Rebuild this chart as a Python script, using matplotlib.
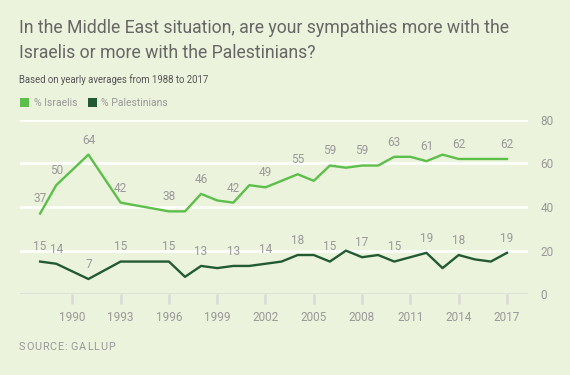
import matplotlib
matplotlib.use("Agg")
import matplotlib.pyplot as plt
from matplotlib.patches import Rectangle

plt.rcParams['font.family'] = ['Roboto', 'DejaVu Sans']

# yearly averages (years with no reading are left out)
years_isr = [1988, 1989, 1991, 1993, 1996, 1997, 1998, 1999, 2000, 2001, 2002, 2003,
             2004, 2005, 2006, 2007, 2008, 2009, 2010, 2011, 2012, 2013, 2014, 2015, 2016, 2017]
israelis = [37, 50, 64, 42, 38, 38, 46, 43, 42, 50, 49, 52,
            55, 52, 59, 58, 59, 59, 63, 63, 61, 64, 62, 62, 62, 62]
palestinians = [15, 14, 7, 15, 15, 8, 13, 12, 13, 13, 14, 15,
                18, 18, 15, 20, 17, 18, 15, 17, 19, 12, 18, 16, 15, 19]

# which points get a number printed above them
isr_labeled = [1988, 1989, 1991, 1993, 1996, 1998, 2000, 2002, 2004, 2006, 2008, 2010, 2012, 2014, 2017]
pal_labeled = [1988, 1989, 1991, 1993, 1996, 1998, 2000, 2002, 2004, 2006, 2008, 2010, 2012, 2014, 2017]

xticks = [1990, 1993, 1996, 1999, 2002, 2005, 2008, 2011, 2014, 2017]
yticks = [0, 20, 40, 60, 80]

bg = '#ebf3dc'
light = '#5cbf4a'
dark = '#225a34'
txt = '#999999'

fig = plt.figure(figsize=(5.7, 3.75), dpi=100, facecolor=bg)
ax = fig.add_axes([20/570, 1-294.3/375, 507.7/570, 174.6/375])
ax.set_facecolor(bg)

ax.set_xlim(1986.75, 2018.29)
ax.set_ylim(0, 80)

for y in yticks[1:]:
    ax.axhline(y, color='white', lw=1.8, zorder=1)
ax.axhline(0, color='#d9d9d9', lw=1.8, zorder=1)

ax.plot(years_isr, israelis, color=light, lw=1.7, zorder=3, clip_on=False)
ax.plot(years_isr, palestinians, color=dark, lw=1.7, zorder=3, clip_on=False)

for yr, v in zip(years_isr, israelis):
    if yr in isr_labeled:
        ax.annotate(str(v), (yr, v), xytext=(0, 10.5), textcoords='offset points',
                    ha='center', va='center', fontsize=8.5, color=txt)
for yr, v in zip(years_isr, palestinians):
    if yr in pal_labeled:
        ax.annotate(str(v), (yr, v), xytext=(0, 10.5), textcoords='offset points',
                    ha='center', va='center', fontsize=8.5, color=txt)

for s in ax.spines.values():
    s.set_visible(False)
ax.set_xticks(xticks)
ax.set_xticklabels([str(x) for x in xticks])
ax.tick_params(axis='x', length=7, width=1.8, color='#d9d9d9', labelcolor=txt,
               labelsize=8.5, pad=5)
ax.yaxis.tick_right()
ax.set_yticks(yticks)
ax.tick_params(axis='y', length=0, labelcolor=txt, labelsize=8.5, pad=9)

fig.text(19/570, 1-28/375, 'In the Middle East situation, are your sympathies more with the',
         fontsize=12.7, color='#666666', va='center')
fig.text(19/570, 1-53/375, 'Israelis or more with the Palestinians?',
         fontsize=12.7, color='#666666', va='center')
fig.text(19/570, 1-80/375, 'Based on yearly averages from 1988 to 2017',
         fontsize=6.9, color='#555555', va='center')

fig.patches.append(Rectangle((20/570, 1-107/375), 9/570, 9/375, transform=fig.transFigure,
                             facecolor=light, edgecolor='none'))
fig.text(34/570, 1-102.5/375, '% Israelis', fontsize=7.5, color=txt, va='center')
fig.patches.append(Rectangle((88/570, 1-107/375), 9/570, 9/375, transform=fig.transFigure,
                             facecolor=dark, edgecolor='none'))
fig.text(101/570, 1-102.5/375, '% Palestinians', fontsize=7.5, color=txt, va='center')

# letter-spaced source line, one character at a time
renderer = fig.canvas.get_renderer()
xpos = 19.0
for ch in 'SOURCE: GALLUP':
    t = fig.text(xpos/570, 1-347/375, ch, fontsize=7.8, color=txt, va='center')
    w = t.get_window_extent(renderer).width if ch != ' ' else 2.0
    xpos += w + 0.8

fig.savefig('out.png', dpi=100, facecolor=bg)
